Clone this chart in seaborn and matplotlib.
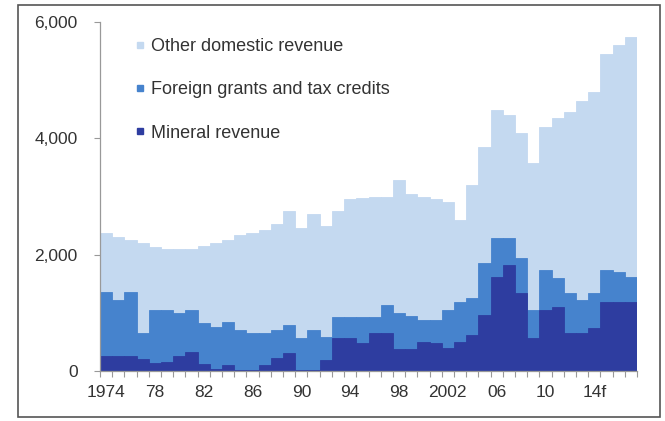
import matplotlib
matplotlib.use("Agg")
import matplotlib.pyplot as plt
from matplotlib.lines import Line2D
from matplotlib.patches import Rectangle
import seaborn as sns
import pandas as pd

# data (million, cumulative stack tops)
years = list(range(1974, 2018))
mineral = [250, 250, 260, 200, 130, 160, 250, 320, 120, 30,
           100, 20, 20, 100, 220, 310, 10, 10, 190, 570,
           570, 480, 650, 650, 380, 380, 500, 480, 400, 500,
           620, 960, 1620, 1820, 1340, 570, 1050, 1100, 650, 650,
           740, 1190, 1190, 1190]
mineral_plus_grants = [1360, 1220, 1360, 650, 1050, 1050, 1000, 1050, 820, 760,
                       840, 700, 650, 650, 700, 790, 570, 700, 580, 930,
                       930, 930, 930, 1130, 1000, 950, 880, 880, 1050, 1190,
                       1250, 1850, 2280, 2280, 1940, 1050, 1740, 1600, 1340, 1220,
                       1340, 1740, 1700, 1620]
total = [2370, 2300, 2250, 2200, 2130, 2100, 2100, 2100, 2150, 2200,
         2250, 2330, 2380, 2430, 2520, 2750, 2450, 2700, 2500, 2750,
         2950, 2980, 2990, 3000, 3280, 3050, 3000, 2950, 2900, 2600,
         3200, 3850, 4480, 4400, 4100, 3570, 4200, 4350, 4450, 4650,
         4790, 5450, 5600, 5750]
tick_labels = ["1974", "78", "82", "86", "90", "94", "98", "2002", "06", "10", "14f"]
series_names = ["Other domestic revenue", "Foreign grants and tax credits", "Mineral revenue"]

c_light = "#c4d9f0"
c_mid = "#4683cd"
c_dark = "#2e3da0"

df = pd.DataFrame({"year": [str(y) for y in years],
                   "total": total,
                   "mid": mineral_plus_grants,
                   "dark": mineral})

sns.set_style("white")
plt.rcParams["font.family"] = ["Liberation Sans", "DejaVu Sans"]

fig = plt.figure(figsize=(6.65, 4.21), dpi=100)
ax = fig.add_axes([100 / 665, 1 - 371 / 421, 537 / 665, 349 / 421])

for col, c in [("total", c_light), ("mid", c_mid), ("dark", c_dark)]:
    sns.barplot(data=df, x="year", y=col, color=c, width=1.0, saturation=1,
                edgecolor=c, linewidth=0.6, ax=ax)

ax.set_xlim(-0.5, len(years) - 0.5)
ax.set_ylim(0, 6000)
ax.set_xlabel("")
ax.set_ylabel("")

ax.set_yticks([0, 2000, 4000, 6000])
ax.set_yticklabels(["0", "2,000", "4,000", "6,000"])
ax.set_xticks([years.index(1974 + 4 * i) for i in range(len(tick_labels))])
ax.set_xticklabels(tick_labels)
ax.set_xticks([i - 0.5 for i in range(len(years) + 1)], minor=True)

ax.tick_params(axis="y", which="major", length=4, width=0.8, color="#999999",
               pad=12, labelsize=12.5, labelcolor="#333333", left=True)
ax.tick_params(axis="x", which="major", length=0, pad=10,
               labelsize=12.5, labelcolor="#333333")
ax.tick_params(axis="x", which="minor", length=4, width=0.8, color="#999999",
               bottom=True)

sns.despine(ax=ax)
for s in ["left", "bottom"]:
    ax.spines[s].set_color("#999999")
    ax.spines[s].set_linewidth(0.9)

handles = [Line2D([], [], marker="s", linestyle="", markersize=4.5,
                  markerfacecolor=c, markeredgecolor=c)
           for c in [c_light, c_mid, c_dark]]
ax.legend(handles, series_names, loc="upper left",
          bbox_to_anchor=(0.035, 1.0), frameon=False, fontsize=13,
          handlelength=0.6, handletextpad=0.3, labelspacing=1.45,
          labelcolor="#333333")

fig.add_artist(Rectangle((18 / 665, 4 / 421), 642 / 665, 412 / 421,
                         transform=fig.transFigure, fill=False,
                         edgecolor="#555555", linewidth=1.2))

fig.savefig("out.png", dpi=100)
